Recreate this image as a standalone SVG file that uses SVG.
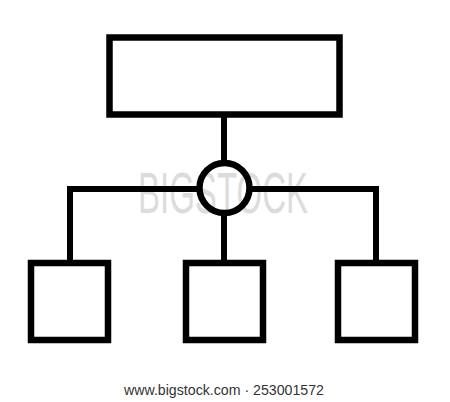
<svg xmlns="http://www.w3.org/2000/svg" width="450" height="402" viewBox="0 0 450 402">
<style>
.s{fill:none;stroke:#000;stroke-width:6.5}
.c{fill:none;stroke:#000;stroke-width:6}
.wm{font-family:"Liberation Sans",Arial,sans-serif;fill:#dcdcdc}
.ft{font-family:"Liberation Sans",Arial,sans-serif;fill:#333}
</style>
<rect width="450" height="402" fill="#fff"/>
<text class="wm" x="223" y="213" font-size="58" text-anchor="middle" textLength="170" lengthAdjust="spacingAndGlyphs">BIGSTOCK</text>
<g id="connectors">
<line class="c" x1="224" y1="114" x2="224" y2="163"/>
<polyline class="c" points="70,263 70,189 199,189"/>
<polyline class="c" points="250,189 376,189 376,263"/>
<line class="c" x1="224" y1="213" x2="224" y2="263"/>
</g>
<g id="top"><rect class="s" x="109.5" y="37.5" width="230" height="77"/></g>
<g id="hub"><circle class="s" cx="224.5" cy="188" r="25"/></g>
<g id="left"><rect class="s" x="31" y="263" width="77" height="77"/></g>
<g id="middle"><rect class="s" x="186" y="263" width="77" height="77"/></g>
<g id="right"><rect class="s" x="338" y="263" width="77" height="77"/></g>
<text class="ft" x="224" y="395" font-size="14" text-anchor="middle" textLength="200" lengthAdjust="spacingAndGlyphs">www.bigstock.com · 253001572</text>
</svg>
